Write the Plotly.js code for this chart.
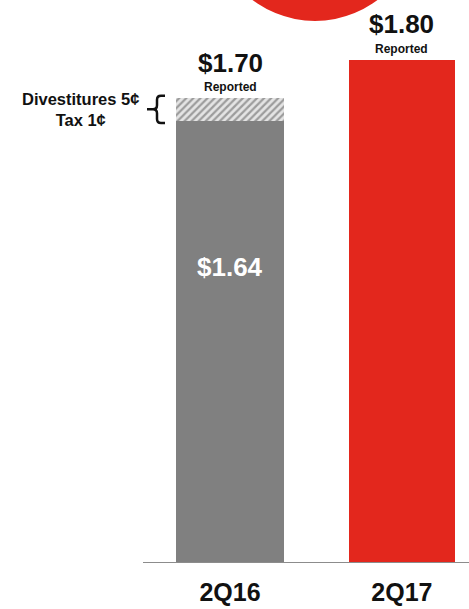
<!DOCTYPE html>
<html>
<head>
<meta charset="utf-8">
<script src="https://cdn.plot.ly/plotly-3.0.1.min.js"></script>
<style>
html,body{margin:0;padding:0;background:#fff;}
#chart{width:469px;height:609px;}
</style>
</head>
<body>
<div id="chart"></div>
<script>
// ---- data ----
const categories = ['2Q16', '2Q17'];
const adjustedEps = [1.64, null];      // 2Q16 excluding items
const itemsEps = [0.06, null];         // divestitures 5¢ + tax 1¢
const reportedEps = [1.70, 1.80];      // reported totals
const q17Eps = [null, 1.80];
const itemLabels = ['Divestitures 5¢', 'Tax 1¢'];
const totalLabels = ['$1.70', '$1.80'];
const adjustedLabel = '$1.64';
const subLabel = 'Reported';

const FONT = 'Liberation Sans, Arial, Helvetica, sans-serif';
const GRAY = '#808080';
const RED = '#e3271d';

const traces = [
  {type: 'bar', x: categories, y: adjustedEps, width: 0.628,
   marker: {color: GRAY, line: {width: 0}}, hoverinfo: 'skip'},
  {type: 'bar', x: categories, y: itemsEps, width: 0.628,
   marker: {color: '#e4e4e4', line: {width: 0},
     pattern: {shape: '/', bgcolor: '#e4e4e4', fgcolor: '#9c9c9c', size: 5, solidity: 0.45}},
   hoverinfo: 'skip'},
  {type: 'bar', x: categories, y: q17Eps, width: 0.62,
   marker: {color: RED, line: {width: 0}}, hoverinfo: 'skip'}
];

const yMin = 0.482, yMax = 1.957;
const plotL = 143, plotW = 326, plotH = 562;
const px2paperX = p => (p - plotL) / plotW;
const px2paperY = p => (plotH - p) / plotH;
const pxPerY = plotH / (yMax - yMin);

const annotations = [];
categories.forEach((c, i) => {
  annotations.push({x: c, y: reportedEps[i], xref: 'x', yref: 'y', text: totalLabels[i],
    showarrow: false, yanchor: 'middle', yshift: i === 0 ? 35 : 36,
    font: {family: FONT, size: 26, color: '#111', weight: 'bold'}});
  annotations.push({x: c, y: reportedEps[i], xref: 'x', yref: 'y', text: subLabel,
    showarrow: false, yanchor: 'middle', yshift: 11,
    font: {family: FONT, size: 12, color: '#111', weight: 'bold'}});
});
annotations.push({x: categories[0], y: 1.255, xref: 'x', yref: 'y', text: adjustedLabel,
  showarrow: false, yanchor: 'middle',
  font: {family: FONT, size: 26, color: '#ffffff', weight: 'bold'}});
annotations.push({x: px2paperX(80), xref: 'paper', y: adjustedEps[0] + itemsEps[0] / 2, yref: 'y',
  text: itemLabels.join('<br>'), showarrow: false, xanchor: 'center', yanchor: 'middle',
  align: 'center',
  font: {family: FONT, size: 16.5, color: '#111', weight: 'bold'}});

// curly brace
const bTop = reportedEps[0] + 0.006, bBot = adjustedEps[0] - 0.006, bMid = (bTop + bBot) / 2;
const xr = px2paperX(165), xv = px2paperX(157), xl = px2paperX(147);
const rx = 4 / plotW, ry = 4 / pxPerY;
const bracePath = [
  `M ${xr},${bTop}`, `L ${xv + rx},${bTop}`, `Q ${xv},${bTop} ${xv},${bTop - ry}`,
  `L ${xv},${bMid + ry}`, `Q ${xv},${bMid} ${xv - rx},${bMid}`, `L ${xl},${bMid}`,
  `M ${xv - rx},${bMid}`, `Q ${xv},${bMid} ${xv},${bMid - ry}`,
  `L ${xv},${bBot + ry}`, `Q ${xv},${bBot} ${xv + rx},${bBot}`, `L ${xr},${bBot}`
].join(' ');

const shapes = [
  {type: 'path', xref: 'paper', yref: 'y', path: bracePath,
   line: {color: '#111', width: 2.5}},
  {type: 'circle', xref: 'paper', yref: 'paper',
   x0: px2paperX(211.5), x1: px2paperX(418.5), y0: px2paperY(21), y1: px2paperY(-186),
   fillcolor: RED, line: {width: 0}, layer: 'above'}
];

const layout = {
  width: 469, height: 609,
  margin: {l: plotL, r: 0, t: 0, b: 609 - plotH, pad: 0},
  paper_bgcolor: '#ffffff', plot_bgcolor: '#ffffff',
  barmode: 'stack', showlegend: false, hovermode: false,
  xaxis: {type: 'category', range: [-0.506, 1.390], showgrid: false, zeroline: false,
    showline: true, linecolor: '#8c8c8c', linewidth: 1, ticks: '',
    ticklabelstandoff: 8,
    tickfont: {family: FONT, size: 25, color: '#111', weight: 'bold'}, fixedrange: true},
  yaxis: {range: [yMin, yMax], visible: false, showgrid: false, zeroline: false, fixedrange: true},
  annotations: annotations,
  shapes: shapes
};

Plotly.newPlot('chart', traces, layout, {displayModeBar: false, staticPlot: true});
</script>
</body>
</html>
